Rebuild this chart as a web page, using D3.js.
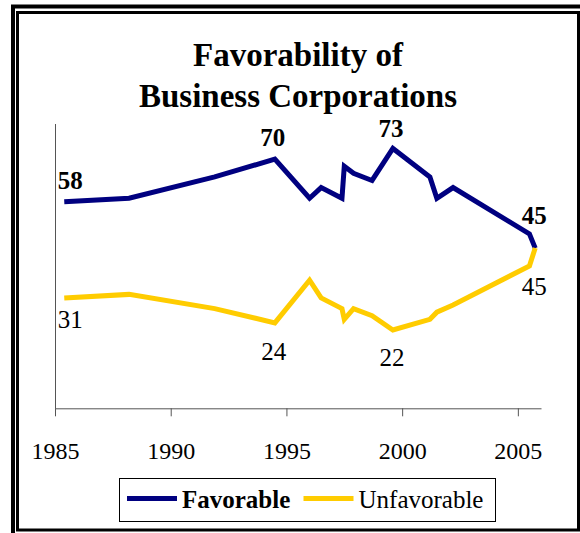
<!DOCTYPE html>
<html>
<head>
<meta charset="utf-8">
<script src="https://cdn.jsdelivr.net/npm/d3@7"></script>
<style>
  body { margin: 0; background: #fff; }
  svg { display: block; font-family: "Liberation Serif", "Times New Roman", serif; }
  .axis path, .axis line { stroke: #555; }
  .axis text { font-family: "Liberation Serif", serif; font-size: 24px; fill: #000; }
</style>
</head>
<body>
<div class="chart"></div>
<script>
// survey dates (fractional years) and values
const dates = [1985.4, 1988.2, 1991.9, 1994.5, 1996.0, 1996.5, 1997.4, 1997.5, 1997.9, 1998.7, 1999.6, 2001.2, 2001.5, 2002.2, 2005.5, 2005.75]
const favorable = [58, 59, 65, 70, 59, 62, 59, 68, 66, 64, 73, 65, 59, 62, 49, 45]
const unfavorable = [31, 32, 28, 24, 36, 31, 28, 25, 28, 26, 22, 25, 27, 29, 40, 45]
const xTicks = [1985, 1990, 1995, 2000, 2005]
const labelIdx = [0, 3, 10, 15]
const titleLines = ['Favorability of', 'Business Corporations']
const seriesNames = ['Favorable', 'Unfavorable']

const width = 580, height = 533

const svg = d3.select('.chart').append('svg')
  .attr('width', width)
  .attr('height', height)

// frame: double line top/left, inner box all round
svg.append('path')
  .attr('d', 'M13,533 V6.5 H580')
  .attr('fill', 'none')
  .attr('stroke', '#000')
  .attr('stroke-width', 4)
svg.append('rect')
  .attr('x', 17.5).attr('y', 12.5)
  .attr('width', 561).attr('height', 517.5)
  .attr('fill', 'none')
  .attr('stroke', '#000')
  .attr('stroke-width', 3)

const x = d3.scaleLinear().domain([1985, 2006]).range([55, 541])
const y = d3.scaleLinear().domain([0, 80]).range([408.3, 123.5])

svg.selectAll('.title')
  .data(titleLines)
  .enter().append('text')
  .attr('class', 'title')
  .attr('x', 298)
  .attr('y', (d, i) => 66 + i * 41)
  .attr('text-anchor', 'middle')
  .attr('font-weight', 'bold')
  .attr('font-size', 33)
  .text(d => d)

svg.append('g')
  .attr('class', 'axis')
  .attr('transform', 'translate(55,0)')
  .call(d3.axisLeft(y).ticks(0).tickSizeOuter(0))

svg.append('g')
  .attr('class', 'x axis')
  .attr('transform', 'translate(0,' + y(0) + ')')
  .call(d3.axisBottom(x)
    .tickValues(xTicks)
    .tickFormat(d3.format('d'))
    .tickSizeOuter(0)
    .tickSizeInner(8)
    .tickPadding(26))

const line = vals => d3.line()
  .x((d, i) => x(dates[i]))
  .y(d => y(d))(vals)

svg.append('path')
  .attr('d', line(favorable))
  .attr('fill', 'none')
  .attr('stroke', '#000080')
  .attr('stroke-width', 5)

svg.append('path')
  .attr('d', line(unfavorable))
  .attr('fill', 'none')
  .attr('stroke', '#FFCC00')
  .attr('stroke-width', 5)

// value labels
const favOff = [[6, -13], [-2, -13], [-2, -11], [-1, -24]]
const unfOff = [[6, 30], [-1, 37], [-1, 36], [-1, 47]]

svg.selectAll('.flab')
  .data(labelIdx)
  .enter().append('text')
  .attr('x', (d, i) => x(dates[d]) + favOff[i][0])
  .attr('y', (d, i) => y(favorable[d]) + favOff[i][1])
  .attr('text-anchor', 'middle')
  .attr('font-weight', 'bold')
  .attr('font-size', 25)
  .text(d => favorable[d])

svg.selectAll('.ulab')
  .data(labelIdx)
  .enter().append('text')
  .attr('x', (d, i) => x(dates[d]) + unfOff[i][0])
  .attr('y', (d, i) => y(unfavorable[d]) + unfOff[i][1])
  .attr('text-anchor', 'middle')
  .attr('font-size', 25)
  .text(d => unfavorable[d])

// legend
const legend = svg.append('g')
legend.append('rect')
  .attr('x', 119.5).attr('y', 478.5)
  .attr('width', 376).attr('height', 43)
  .attr('fill', 'none')
  .attr('stroke', '#000')
  .attr('stroke-width', 1)

const legX = [127, 303.5]
const colors = ['#000080', '#FFCC00']
seriesNames.forEach((name, i) => {
  legend.append('line')
    .attr('x1', legX[i]).attr('x2', legX[i] + 50)
    .attr('y1', 498.5).attr('y2', 498.5)
    .attr('stroke', colors[i])
    .attr('stroke-width', 5)
  legend.append('text')
    .attr('x', legX[i] + 55)
    .attr('y', 507.5)
    .attr('font-size', 25)
    .attr('font-weight', i === 0 ? 'bold' : 'normal')
    .text(name)
})
</script>
</body>
</html>
